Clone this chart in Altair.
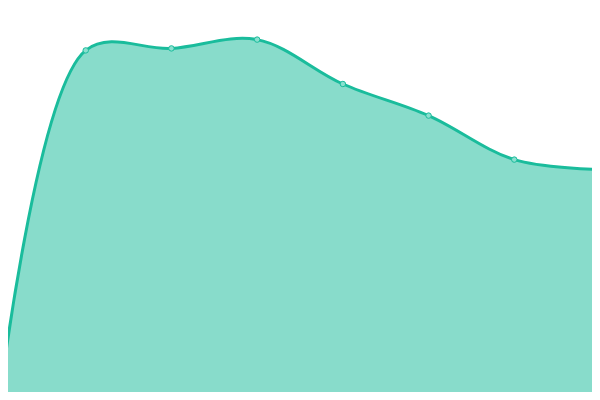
import altair as alt
import pandas as pd

steps = [0, 1, 2, 3, 4, 5, 6, 7]
values = [0.6, 87.4, 87.9, 90.1, 79.0, 71.1, 60.1, 57.6]

df = pd.DataFrame({"step": steps, "value": values})

x = alt.X("step:Q", axis=None, scale=alt.Scale(domain=[0, 7], range=[-8, 592], nice=False, zero=False))
y = alt.Y("value:Q", axis=None, scale=alt.Scale(domain=[0, 100], range=[392, -8], nice=False))

base = alt.Chart(df)
area = base.mark_area(interpolate="catmull-rom", color="#1abc9c", opacity=0.52).encode(x=x, y=y)
line = base.mark_line(interpolate="catmull-rom", color="#1abc9c", strokeWidth=3).encode(x=x, y=y)
pts = base.mark_point(filled=True, size=30, fill="#8ae0cf", stroke="#1abc9c", strokeWidth=1, opacity=1).encode(x=x, y=y)

chart = (area + line + pts).properties(
    width=584, height=384, padding=0, autosize="none"
).configure_view(stroke=None)

chart.save("out.html", embed_options={"renderer": "svg", "actions": False})
